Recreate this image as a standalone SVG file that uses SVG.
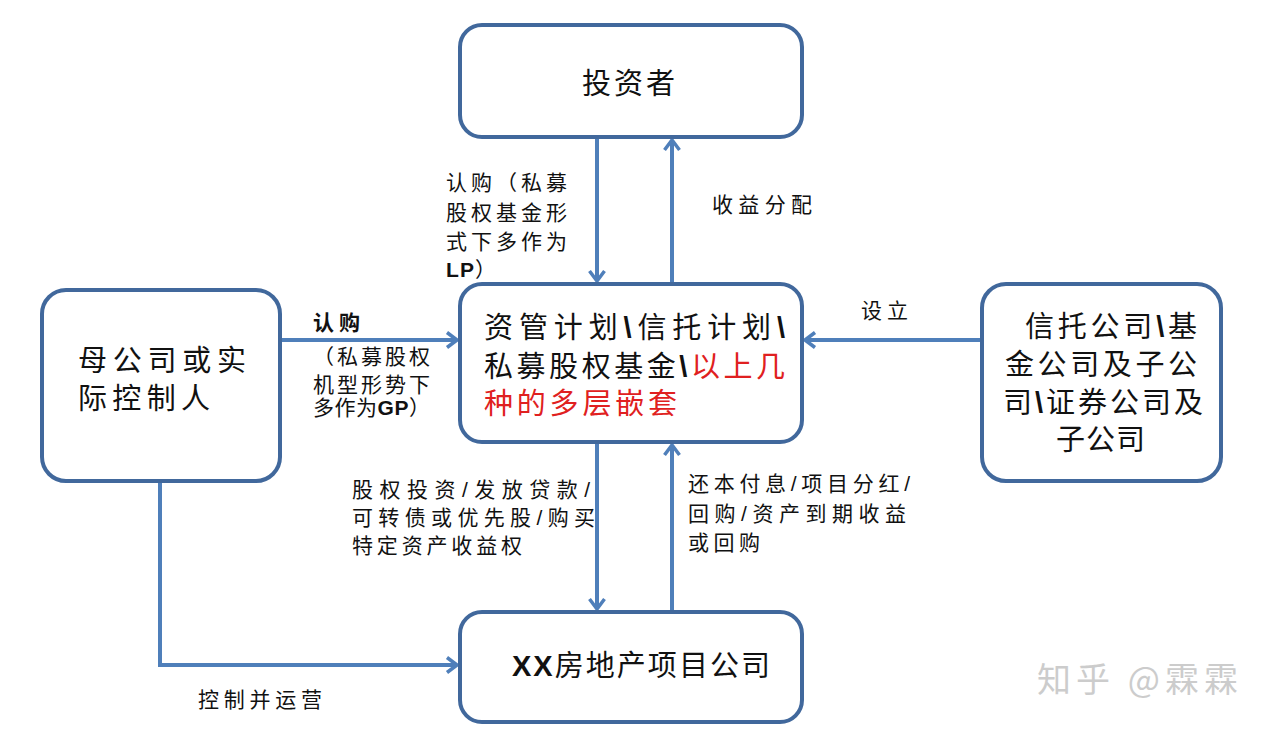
<svg xmlns="http://www.w3.org/2000/svg" width="1269" height="732" viewBox="0 0 1269 732">
<style>
.box{fill:#fff;stroke:#41689c;stroke-width:4}
.c{fill:none;stroke:#4f7fba;stroke-width:4}
.t{font-family:"Liberation Sans","Noto Sans CJK SC",sans-serif;fill:#111}
.big{font-size:29px}
.lbl{font-size:21px}
.red{fill:#e02020}
</style>
<defs>
<marker id="ah" viewBox="0 0 14 18" refX="12" refY="9" markerWidth="14" markerHeight="18" markerUnits="userSpaceOnUse" orient="auto">
<path d="M2,1.5 L12,9 L2,16.5" fill="none" stroke="#4f7fba" stroke-width="3.5"/>
</marker>
</defs>
<rect width="1269" height="732" fill="#fff"/>
<g id="connectors">
<line class="c" x1="597" y1="137" x2="597" y2="281" marker-end="url(#ah)"/>
<line class="c" x1="672" y1="284" x2="672" y2="140" marker-end="url(#ah)"/>
<line class="c" x1="280" y1="340" x2="457" y2="340" marker-end="url(#ah)"/>
<line class="c" x1="982" y1="340" x2="805" y2="340" marker-end="url(#ah)"/>
<line class="c" x1="597" y1="442" x2="597" y2="609" marker-end="url(#ah)"/>
<line class="c" x1="672" y1="612" x2="672" y2="445" marker-end="url(#ah)"/>
<polyline class="c" points="160,481 160,665 457,665" marker-end="url(#ah)"/>
<g class="t lbl">
<text x="446" y="190" textLength="121">认购（私募</text>
<text x="446" y="220" textLength="121">股权基金形</text>
<text x="446" y="249" textLength="121">式下多作为</text>
<text x="446" y="277" textLength="50"><tspan font-weight="bold">LP</tspan>）</text>
<text x="712" y="212" textLength="100">收益分配</text>
<text x="313" y="330" font-weight="bold" textLength="47">认购</text>
<text x="313" y="364" textLength="117">（私募股权</text>
<text x="313" y="392" textLength="117">机型形势下</text>
<text x="313" y="415" textLength="117">多作为<tspan font-weight="bold">GP</tspan>）</text>
<text x="861" y="318" textLength="47">设立</text>
<text x="352" y="497" textLength="238">股权投资/发放贷款/</text>
<text x="352" y="525" textLength="243">可转债或优先股/购买</text>
<text x="352" y="553" textLength="170">特定资产收益权</text>
<text x="688" y="491" textLength="222">还本付息/项目分红/</text>
<text x="688" y="521" textLength="218">回购/资产到期收益</text>
<text x="688" y="550" textLength="72">或回购</text>
<text x="198" y="707" textLength="124">控制并运营</text>
</g>
</g>
<g id="investor">
<rect class="box" x="460" y="25" width="342" height="112" rx="22"/>
<text class="t big" x="582" y="94" textLength="93">投资者</text>
</g>
<g id="vehicle">
<rect class="box" x="460" y="284" width="342" height="158" rx="22"/>
<text class="t big" x="484" y="338" textLength="301">资管计划<tspan font-weight="bold">\</tspan>信托计划<tspan font-weight="bold">\</tspan></text>
<text class="t big" x="484" y="377" textLength="301">私募股权基金<tspan font-weight="bold">\</tspan><tspan class="red">以上几</tspan></text>
<text class="t big red" x="484" y="414" textLength="193">种的多层嵌套</text>
</g>
<g id="parent">
<rect class="box" x="42" y="290" width="238" height="191" rx="24"/>
<text class="t big" x="78" y="371" textLength="168">母公司或实</text>
<text class="t big" x="78" y="409" textLength="132">际控制人</text>
</g>
<g id="sponsor">
<rect class="box" x="982" y="284" width="239" height="197" rx="24"/>
<text class="t big" x="1025" y="337" textLength="172">信托公司<tspan font-weight="bold">\</tspan>基</text>
<text class="t big" x="1005" y="375" textLength="192">金公司及子公</text>
<text class="t big" x="1003" y="413" textLength="200">司<tspan font-weight="bold">\</tspan>证券公司及</text>
<text class="t big" x="1056" y="450" textLength="89">子公司</text>
</g>
<g id="project">
<rect class="box" x="460" y="612" width="342" height="110" rx="22"/>
<text class="t big" x="512" y="676" textLength="258"><tspan font-weight="bold">XX</tspan>房地产项目公司</text>
</g>
<text x="1037" y="692" font-family="Noto Sans CJK SC,sans-serif" font-size="34" fill="#cccccc" textLength="201">知乎 @霖霖</text>
</svg>
